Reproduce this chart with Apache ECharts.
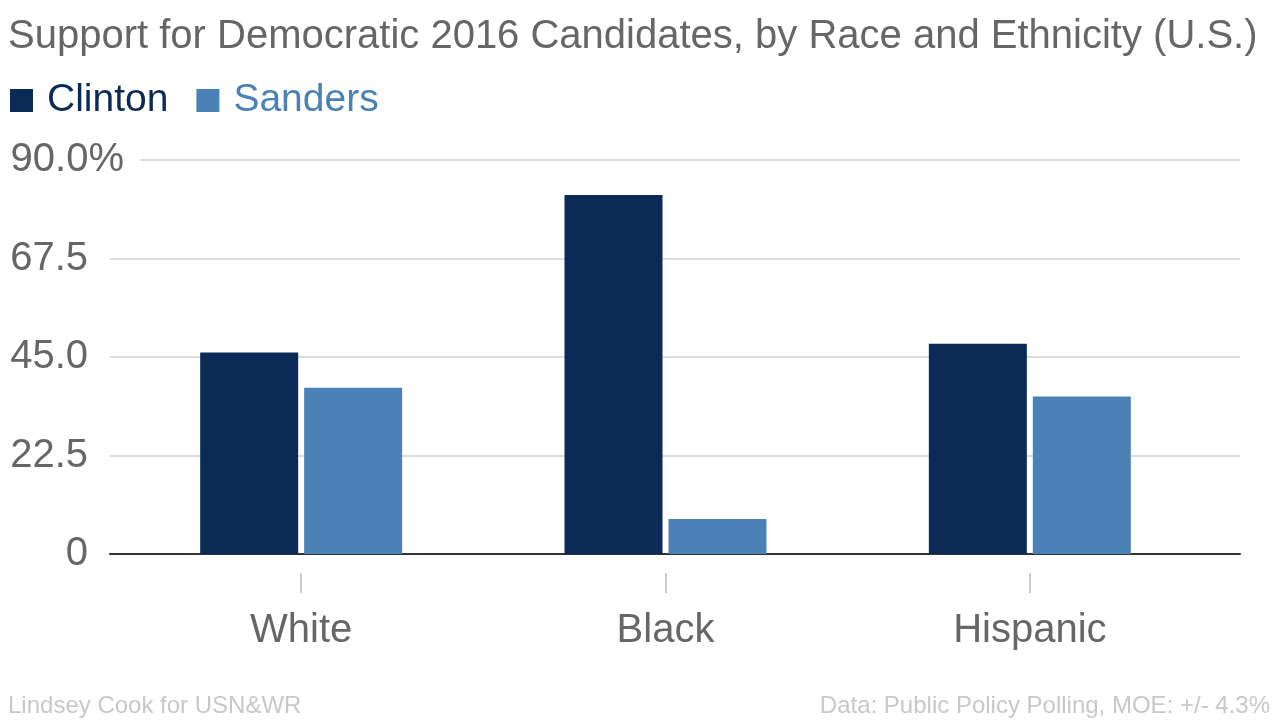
<!DOCTYPE html>
<html>
<head>
<meta charset="utf-8">
<script src="https://cdn.jsdelivr.net/npm/echarts@6/dist/echarts.min.js"></script>
<style>
html,body{margin:0;padding:0;background:#fff;}
#chart{width:1280px;height:720px;}
</style>
</head>
<body>
<div id="chart"></div>
<script>
const categories = ['White', 'Black', 'Hispanic'];
const clinton = [46, 82, 48];
const sanders = [38, 8, 36];
const yTickLabels = ['0', '22.5', '45.0', '67.5', '90.0'];
const yMax = 90;
const yInterval = 22.5;

const FONT = '"Liberation Sans", Arial, Helvetica, sans-serif';
const GREY = '#666666';
const C_CLINTON = '#0b2a56';
const C_SANDERS = '#4a81b7';

const chart = echarts.init(document.getElementById('chart'), null, {renderer: 'canvas'});

const option = {
  animation: false,
  backgroundColor: '#ffffff',
  textStyle: {fontFamily: FONT},
  title: [
    {
      text: 'Support for Democratic 2016 Candidates, by Race and Ethnicity (U.S.)',
      left: 8, top: 17, padding: 0,
      textStyle: {fontFamily: FONT, fontSize: 40, fontWeight: 'normal', color: GREY}
    },
    {
      text: 'Lindsey Cook for USN&WR',
      left: 8, top: 694, padding: 0,
      textStyle: {fontFamily: FONT, fontSize: 24, fontWeight: 'normal', color: '#c8c8c8'}
    },
    {
      text: 'Data: Public Policy Polling, MOE: +/- 4.3%',
      right: 10, top: 694, padding: 0,
      textStyle: {fontFamily: FONT, fontSize: 24, fontWeight: 'normal', color: '#c8c8c8'}
    }
  ],
  legend: {
    left: 10, top: 81, padding: 0,
    icon: 'rect', itemWidth: 23, itemHeight: 23, itemGap: 28,
    textStyle: {fontFamily: FONT, fontSize: 39},
    data: [
      {name: 'Clinton', textStyle: {color: C_CLINTON, fontSize: 39, padding: [0, 0, 0, 9]}},
      {name: 'Sanders', textStyle: {color: C_SANDERS, fontSize: 39, padding: [0, 0, 0, 9]}}
    ]
  },
  grid: [
    {left: 110, right: 40, top: 160, height: 394, containLabel: false},
    {left: 119, right: 68, top: 160, height: 394, containLabel: false},
    {left: 119, right: 68, top: 160, height: 413, containLabel: false}
  ],
  xAxis: [
    {
      type: 'value', gridIndex: 0, min: 0, max: 1,
      axisLine: {show: true, onZero: false, lineStyle: {color: '#333333', width: 2}},
      axisTick: {show: false}, axisLabel: {show: false}, splitLine: {show: false}
    },
    {
      type: 'category', gridIndex: 1, data: categories, offset: 19,
      axisLine: {show: false},
      axisTick: {show: false},
      axisLabel: {fontFamily: FONT, fontSize: 40, color: GREY, margin: 38},
      splitLine: {show: false}
    },
    {
      type: 'category', gridIndex: 2, data: categories,
      axisLine: {show: false},
      axisTick: {show: true, alignWithLabel: true, length: 20, lineStyle: {color: '#cccccc', width: 2}},
      axisLabel: {show: false},
      splitLine: {show: false}
    }
  ],
  yAxis: [
    {
      type: 'value', gridIndex: 0, min: 0, max: yMax, interval: yInterval,
      axisLine: {show: false}, axisTick: {show: false},
      splitLine: {show: true, lineStyle: {color: '#dddddd', width: 2}},
      axisLabel: {
        margin: -30,
        fontFamily: FONT, fontSize: 40, color: GREY,
        formatter: function (v) {
          const idx = Math.round(v / yInterval);
          const t = yTickLabels[idx];
          return idx === yTickLabels.length - 1
            ? '{n|' + t + '}{p|%}{r| }'
            : '{n|' + t + '}{q| }';
        },
        rich: {
          n: {fontFamily: FONT, fontSize: 40, color: GREY},
          p: {fontFamily: FONT, fontSize: 40, color: GREY, backgroundColor: '#ffffff'},
          r: {fontFamily: FONT, fontSize: 40, width: 16, backgroundColor: '#ffffff'},
          q: {fontFamily: FONT, fontSize: 40, width: 52}
        }
      }
    },
    {
      type: 'value', gridIndex: 1, min: 0, max: yMax, interval: yInterval, show: false
    },
    {
      type: 'value', gridIndex: 2, min: 0, max: yMax, interval: yInterval, show: false
    }
  ],
  series: [
    {
      name: 'Clinton', type: 'bar', xAxisIndex: 1, yAxisIndex: 1,
      data: clinton, barWidth: 98, barGap: '6.1%',
      itemStyle: {color: C_CLINTON}
    },
    {
      name: 'Sanders', type: 'bar', xAxisIndex: 1, yAxisIndex: 1,
      data: sanders, barWidth: 98, barGap: '6.1%',
      itemStyle: {color: C_SANDERS}
    }
  ]
};
chart.setOption(option);
</script>
</body>
</html>
